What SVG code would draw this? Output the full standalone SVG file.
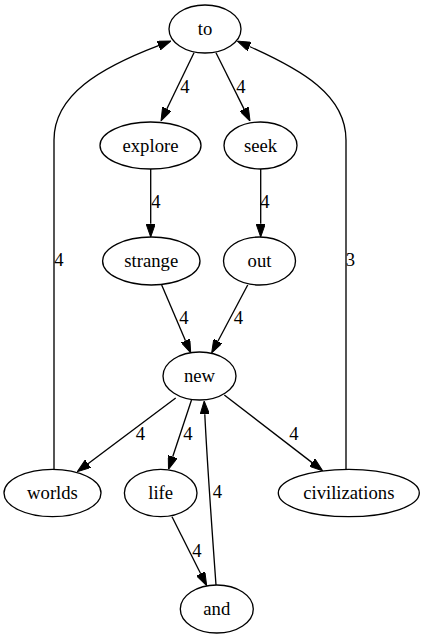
<svg xmlns="http://www.w3.org/2000/svg" width="425" height="639" viewBox="0 0 425 639">
<defs>
<marker id="arr" viewBox="0 0 13.33 9.33" refX="0" refY="4.67" markerWidth="13.33" markerHeight="9.33" markerUnits="userSpaceOnUse" orient="auto">
<path d="M0,0 L13.33,4.67 L0,9.33 Z" fill="#000" stroke="#000" stroke-width="1"/>
</marker>
</defs>
<rect width="425" height="639" fill="#fff"/>
<g id="edges" fill="none" stroke="#000" stroke-width="1.33">
<path d="M194,52.7 L166.8,109" marker-end="url(#arr)"/>
<path d="M216,52.7 L244.1,109.1" marker-end="url(#arr)"/>
<path d="M150.7,169 L150.7,223.7" marker-end="url(#arr)"/>
<path d="M260.7,169 L260.7,223.7" marker-end="url(#arr)"/>
<path d="M161.7,285 L185.5,340.7" marker-end="url(#arr)"/>
<path d="M247.7,285 L217.9,341.2" marker-end="url(#arr)"/>
<path d="M175.7,398 L88,463.7" marker-end="url(#arr)"/>
<path d="M191.5,400 L172.7,456.7" marker-end="url(#arr)"/>
<path d="M224.3,395 L312.1,462.6" marker-end="url(#arr)"/>
<path d="M172,516.7 L200.7,573.8" marker-end="url(#arr)"/>
<path d="M216,585 C212,530 207,460 204.8,414.3" marker-end="url(#arr)"/>
<path d="M54,469 L54,140 C54,95 100,68 158.5,45.7" marker-end="url(#arr)"/>
<path d="M346,469 L346,140 C346,95 302,70 249.5,46.5" marker-end="url(#arr)"/>
</g>
<g id="edge-labels">
<text x="185" y="93" font-family="Liberation Serif, serif" font-size="18.67" text-anchor="middle">4</text>
<text x="241" y="93" font-family="Liberation Serif, serif" font-size="18.67" text-anchor="middle">4</text>
<text x="156" y="208" font-family="Liberation Serif, serif" font-size="18.67" text-anchor="middle">4</text>
<text x="265" y="208" font-family="Liberation Serif, serif" font-size="18.67" text-anchor="middle">4</text>
<text x="184" y="324" font-family="Liberation Serif, serif" font-size="18.67" text-anchor="middle">4</text>
<text x="238.5" y="324" font-family="Liberation Serif, serif" font-size="18.67" text-anchor="middle">4</text>
<text x="140.5" y="440" font-family="Liberation Serif, serif" font-size="18.67" text-anchor="middle">4</text>
<text x="188" y="440" font-family="Liberation Serif, serif" font-size="18.67" text-anchor="middle">4</text>
<text x="294" y="440" font-family="Liberation Serif, serif" font-size="18.67" text-anchor="middle">4</text>
<text x="197" y="557" font-family="Liberation Serif, serif" font-size="18.67" text-anchor="middle">4</text>
<text x="217.5" y="498" font-family="Liberation Serif, serif" font-size="18.67" text-anchor="middle">4</text>
<text x="59" y="266" font-family="Liberation Serif, serif" font-size="18.67" text-anchor="middle">4</text>
<text x="350.5" y="266" font-family="Liberation Serif, serif" font-size="18.67" text-anchor="middle">3</text>
</g>
<g id="node-to"><ellipse cx="205" cy="29" rx="36" ry="24" fill="none" stroke="#000" stroke-width="1.33"/><text x="205" y="35" font-family="Liberation Serif, serif" font-size="18.67" text-anchor="middle">to</text></g>
<g id="node-explore"><ellipse cx="150.5" cy="145.5" rx="50.5" ry="23.5" fill="none" stroke="#000" stroke-width="1.33"/><text x="150.5" y="151.5" font-family="Liberation Serif, serif" font-size="18.67" text-anchor="middle">explore</text></g>
<g id="node-seek"><ellipse cx="260.5" cy="145.5" rx="36.5" ry="23.5" fill="none" stroke="#000" stroke-width="1.33"/><text x="260.5" y="151.5" font-family="Liberation Serif, serif" font-size="18.67" text-anchor="middle">seek</text></g>
<g id="node-strange"><ellipse cx="151.3" cy="261" rx="48.7" ry="24" fill="none" stroke="#000" stroke-width="1.33"/><text x="151.3" y="267" font-family="Liberation Serif, serif" font-size="18.67" text-anchor="middle">strange</text></g>
<g id="node-out"><ellipse cx="259.5" cy="261" rx="36" ry="24" fill="none" stroke="#000" stroke-width="1.33"/><text x="259.5" y="267" font-family="Liberation Serif, serif" font-size="18.67" text-anchor="middle">out</text></g>
<g id="node-new"><ellipse cx="199.5" cy="376" rx="36.5" ry="24" fill="none" stroke="#000" stroke-width="1.33"/><text x="199.5" y="382" font-family="Liberation Serif, serif" font-size="18.67" text-anchor="middle">new</text></g>
<g id="node-worlds"><ellipse cx="52.5" cy="493" rx="48.5" ry="23.7" fill="none" stroke="#000" stroke-width="1.33"/><text x="52.5" y="499" font-family="Liberation Serif, serif" font-size="18.67" text-anchor="middle">worlds</text></g>
<g id="node-life"><ellipse cx="160.7" cy="493" rx="36.3" ry="23.7" fill="none" stroke="#000" stroke-width="1.33"/><text x="160.7" y="499" font-family="Liberation Serif, serif" font-size="18.67" text-anchor="middle">life</text></g>
<g id="node-civilizations"><ellipse cx="348.8" cy="493" rx="70.5" ry="23.7" fill="none" stroke="#000" stroke-width="1.33"/><text x="348.8" y="499" font-family="Liberation Serif, serif" font-size="18.67" text-anchor="middle">civilizations</text></g>
<g id="node-and"><ellipse cx="216.8" cy="609" rx="36.5" ry="24" fill="none" stroke="#000" stroke-width="1.33"/><text x="216.8" y="615" font-family="Liberation Serif, serif" font-size="18.67" text-anchor="middle">and</text></g>
</svg>
